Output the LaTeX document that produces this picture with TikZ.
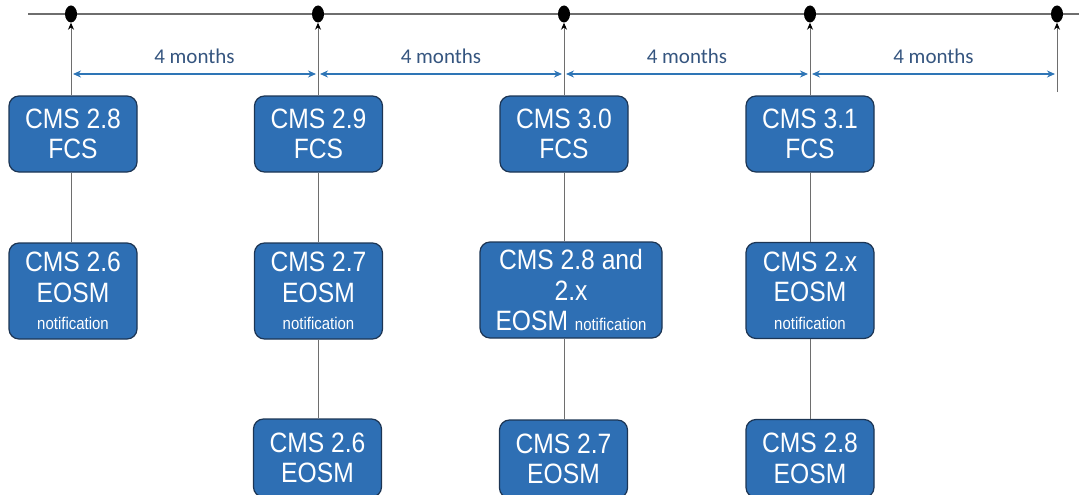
\documentclass[tikz,border=0pt]{standalone}
\usepackage{fontspec}
\setmainfont[FakeStretch=0.88]{Liberation Sans}
\newfontfamily\lblfont{Carlito}
\usetikzlibrary{shapes.geometric,arrows.meta}
\definecolor{boxfill}{HTML}{2E6FB4}
\definecolor{boxline}{HTML}{1C3554}
\definecolor{arrblue}{HTML}{2E75B6}
\definecolor{lbltext}{HTML}{35557F}
\definecolor{axisgray}{HTML}{6E6E6E}
\tikzset{
  x=1pt, y=-1pt,
  dot/.style={ellipse, fill=black, draw=none, minimum width=12pt, minimum height=17pt, inner sep=0pt},
  cmsbox/.style={draw=boxline, line width=1.2pt, fill=boxfill, rounded corners=10pt, text=white,
    align=center, inner sep=0pt, minimum width=128pt, font=\fontsize{28}{30.5}\selectfont},
  fcsbox/.style={cmsbox, minimum height=76pt},
  eosmbox/.style={cmsbox, minimum height=96pt},
  lowbox/.style={cmsbox, minimum height=78pt},
  vline/.style={draw=axisgray, line width=0.9pt},
  uparrow/.style={vline, -{Stealth[length=7pt,width=6pt,black]}},
  months/.style={draw=arrblue, line width=2pt, {Stealth[length=8pt,width=7pt]}-{Stealth[length=8pt,width=7pt]}, shorten <=2pt, shorten >=2pt},
  lbl/.style={midway, above, inner sep=0pt, yshift=9pt, text=lbltext, font=\lblfont\fontsize{21}{24}\selectfont}
}
\newcommand{\notif}{{\fontsize{17}{17}\selectfont notification}}
\begin{document}
\begin{tikzpicture}
\useasboundingbox (0,0) rectangle (1079,495);
% timeline
\coordinate (tl) at (28,14);
\coordinate (tr) at (1079,14);
\draw[axisgray, line width=1.5pt] (tl) -- (tr);
\node[dot] (d1) at (71,14) {};
\node[dot] (d2) at (318,14) {};
\node[dot] (d3) at (564,14) {};
\node[dot] (d4) at (810,14) {};
\node[dot] (d5) at (1057,14) {};
% boxes
\node[fcsbox] (f1) at (73,134) {CMS 2.8\\FCS};
\node[fcsbox] (f2) at (318.5,134) {CMS 2.9\\FCS};
\node[fcsbox] (f3) at (564,134) {CMS 3.0\\FCS};
\node[fcsbox] (f4) at (810,134) {CMS 3.1\\FCS};
\node[eosmbox] (n1) at (73,291) {CMS 2.6\\EOSM\\[-3pt]\notif};
\node[eosmbox] (n2) at (318.5,291) {CMS 2.7\\EOSM\\[-3pt]\notif};
\node[eosmbox, minimum width=182pt] (n3) at (571,290) {CMS 2.8 and\\2.x\\EOSM \notif};
\node[eosmbox] (n4) at (810,290.5) {CMS 2.x\\EOSM\\[-3pt]\notif};
\node[lowbox] (e2) at (317.5,458) {CMS 2.6\\EOSM};
\node[lowbox] (e3) at (563.5,459) {CMS 2.7\\EOSM};
\node[lowbox] (e4) at (810,458.5) {CMS 2.8\\EOSM};
\coordinate (end5) at (1057,92);
% vertical connectors
\draw[uparrow] (f1.north -| d1) -- (d1);
\draw[uparrow] (f2.north -| d2) -- (d2);
\draw[uparrow] (f3.north -| d3) -- (d3);
\draw[uparrow] (f4.north -| d4) -- (d4);
\draw[uparrow] (end5) -- (d5);
\draw[vline] (f1.south -| d1) -- (n1.north -| d1);
\draw[vline] (f2.south -| d2) -- (n2.north -| d2);
\draw[vline] (n2.south -| d2) -- (e2.north -| d2);
\draw[vline] (f3.south -| d3) -- (n3.north -| d3);
\draw[vline] (n3.south -| d3) -- (e3.north -| d3);
\draw[vline] (f4.south -| d4) -- (n4.north -| d4);
\draw[vline] (n4.south -| d4) -- (e4.north -| d4);
% period arrows
\coordinate (m1) at (71,74);
\coordinate (m2) at (318,74);
\coordinate (m3) at (564,74);
\coordinate (m4) at (810,74);
\coordinate (m5) at (1057,74);
\draw[months] (m1) -- node[lbl]{4 months} (m2);
\draw[months] (m2) -- node[lbl]{4 months} (m3);
\draw[months] (m3) -- node[lbl]{4 months} (m4);
\draw[months] (m4) -- node[lbl]{4 months} (m5);
\end{tikzpicture}
\end{document}
